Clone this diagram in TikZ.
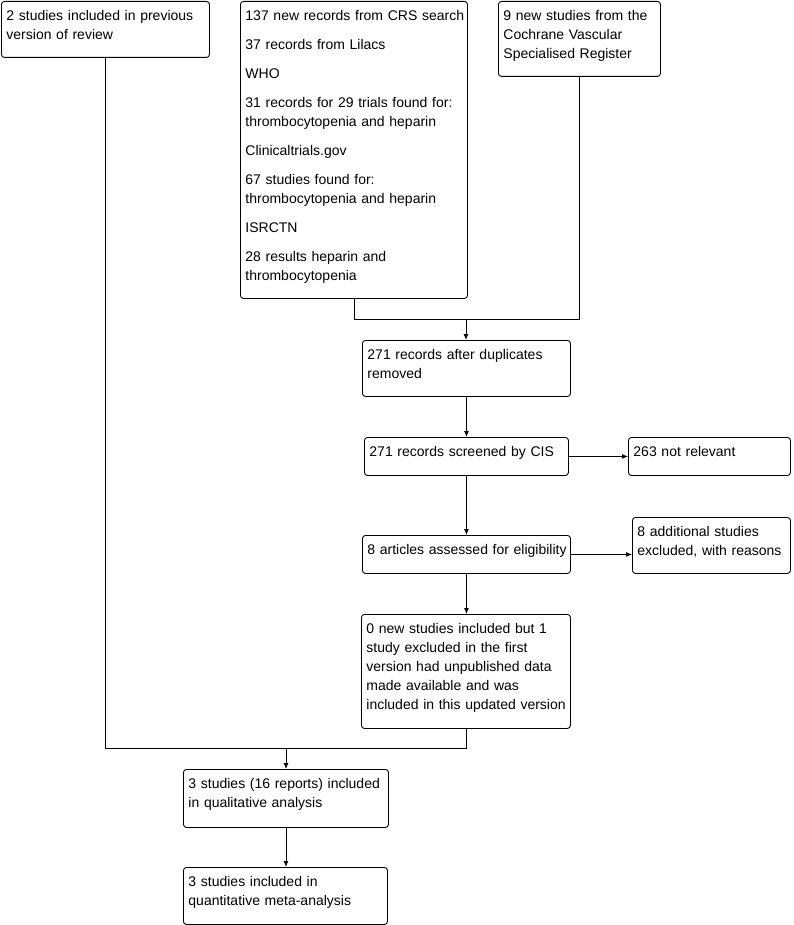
\documentclass[tikz,border=0pt]{standalone}
\usepackage{fontspec}
\setmainfont{Liberation Sans}
\usetikzlibrary{arrows.meta}
\tikzset{
  box/.style={draw=black, line width=0.9pt, rounded corners=3pt, anchor=north west,
    inner xsep=5pt, inner ysep=0pt, align=left, text height=19.5pt,
    font=\fontsize{14}{19}\selectfont},
  conn/.style={draw=black, line width=0.9pt},
  arr/.style={conn, -{Latex[length=6pt,width=5pt]}}
}
\newcommand{\bx}[5]{% name, left, top, W, H ... text given after
  \node[box, text width=#4pt-10pt, text depth=#5pt-19.5pt] (#1) at (#2,#3)}
\newcommand{\ml}[1]{\mbox{#1}}
\begin{document}
\begin{tikzpicture}[x=1pt,y=-1pt]
\useasboundingbox (0,0) rectangle (793,925);
\bx{A}{1}{1}{208}{56} {\ml{2 studies included in previous}\\\ml{version of review}};
\bx{B}{240}{1}{227}{297} {\ml{137 new records from CRS search}\\[10pt]\ml{37 records from Lilacs}\\[10pt]\ml{WHO}\\[10pt]\ml{31 records for 29 trials found for:}\\\ml{thrombocytopenia and heparin}\\[10pt]\ml{Clinicaltrials.gov}\\[10pt]\ml{67 studies found for:}\\\ml{thrombocytopenia and heparin}\\[10pt]\ml{ISRCTN}\\[10pt]\ml{28 results heparin and}\\\ml{thrombocytopenia}};
\bx{C}{498}{1}{162}{75} {\ml{9 new studies from the}\\\ml{Cochrane Vascular}\\\ml{Specialised Register}};
\bx{D}{362}{340}{208}{56} {\ml{271 records after duplicates}\\\ml{removed}};
\bx{E}{364}{437}{204}{38} {\ml{271 records screened by CIS}};
\bx{F}{628}{437}{162}{38} {\ml{263 not relevant}};
\bx{G}{362}{535}{208}{38} {\ml{8 articles assessed for eligibility}};
\bx{H}{632}{517}{158}{56} {\ml{8 additional studies}\\\ml{excluded, with reasons}};
\bx{I}{361}{614}{209}{114} {\ml{0 new studies included but 1}\\\ml{study excluded in the first}\\\ml{version had unpublished data}\\\ml{made available and was}\\\ml{included in this updated version}};
\bx{J}{183}{769}{205}{58} {\ml{3 studies (16 reports) included}\\\ml{in qualitative analysis}};
\bx{K}{183}{867}{204}{57} {\ml{3 studies included in}\\\ml{quantitative meta-analysis}};
\coordinate (j1) at (466,319);
\coordinate (j2) at (286,748);
\draw[conn] (B.south) |- (j1);
\draw[conn] (C.south) |- (j1);
\draw[arr] (j1) -- (j1 |- D.north);
\draw[arr] (D.south) -- (D.south |- E.north);
\draw[arr] (E.south) -- (E.south |- G.north);
\draw[arr] (G.south) -- (G.south |- I.north);
\draw[arr] (E.east) -- (F.west);
\draw[arr] (G.east) -- (G.east -| H.west);
\draw[conn] (A.south) |- (j2);
\draw[conn] (I.south) |- (j2);
\draw[arr] (j2) -- (j2 |- J.north);
\draw[arr] (J.south) -- (J.south |- K.north);
\end{tikzpicture}
\end{document}
